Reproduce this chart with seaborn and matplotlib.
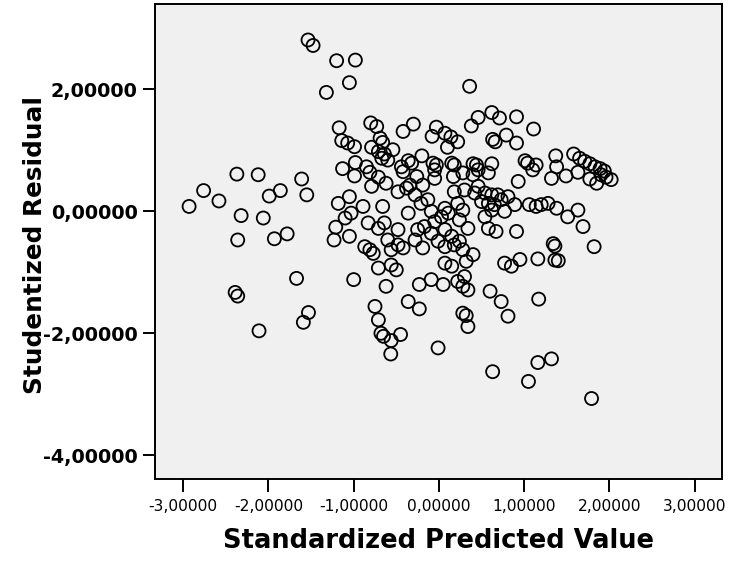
import matplotlib
matplotlib.use("Agg")
import matplotlib.pyplot as plt
import seaborn as sns
import pandas as pd

# ---- data ----
predicted = [
    -1.535, -1.476, -1.20, -1.05, -1.32, -1.17, -1.14, -1.13, -2.37, -2.12,
    -0.98, 0.36, -0.80, -0.73, -0.42, -0.30, -0.03, -0.08, 0.07, 0.14,
    0.22, 0.10, 0.38, 0.46, 0.62, 0.71, 0.91, 1.11, 0.63, 0.66,
    0.79, 0.91, 1.01, 1.04, -1.07, -0.99, -0.69, -0.66, -0.79, -0.71,
    -0.64, -0.54, -0.67, -0.60, -0.98, -0.85, -0.36, -0.32, -0.20, -0.07,
    -0.03, 0.15, 0.18, 0.40, 0.44, 0.62, -0.44,
    1.37, 1.58, 1.65, 1.71, 1.77, 1.83, 1.89, 1.94, 1.14, 1.38,
    1.32, 1.49, 1.63, 1.77, 1.85, 1.90, 1.96, 2.02, 1.20, 1.28,
    1.38, 1.51, 1.63, 1.69, 1.14, 1.34, 1.36, 1.82, 1.16, 1.36,
    1.40, 1.17,
    -1.61, -1.55, -1.86, -1.99, -2.76, -2.58, -2.93, -2.32, -2.06, -2.36,
    -1.93, -1.78, -1.18, -1.21, -1.23, -1.67, -2.39, -2.36, -1.53, -1.59,
    -2.11,
    -0.99, -0.81, -0.71, -0.62, -0.79, -0.42, -0.26, -0.34, -0.48, -0.38,
    -0.19, -0.05, -0.05, 0.17, 0.28, 0.40, 0.46, 0.58, 0.93, 1.10,
    0.18, 0.30, 0.46, 0.42, 0.54, 0.62, 0.69, 0.73, 0.81, 0.89,
    0.50, 0.58, 0.65, -1.05, -1.03, -0.89, -0.66, -0.28, -0.36, -0.21,
    -0.13, -0.09, 0.07, 0.11, 0.03, 0.22, 0.28, 0.62, 0.77, 0.54,
    1.06, -1.10, -0.83, -0.71, -0.64, -0.48, -0.60, -0.25, -0.17, -0.05,
    -0.09, 0.07, 0.15, 0.24, 0.34, 0.24, 0.58, 0.67, 0.91, -1.05,
    -0.28, -0.87, -0.81, -0.77, -0.56, -0.48, -0.42, -0.19, -0.01, 0.07,
    0.18, 0.28, 0.40, 0.07, 0.15, 0.32, 0.77, 0.85, 0.95, -0.56,
    -0.50, -0.71, -1.00, -0.62, -0.23, -0.09, 0.05, 0.22, 0.30, 0.28,
    0.34, 0.60, -0.75, -0.71, -0.36, -0.23, 0.28, 0.32, 0.34, 0.73,
    0.81,
    -0.68, -0.65, -0.56, -0.45, -0.565, -0.01, 0.63, 1.16, 1.32, 1.05,
    1.79,
]

residual = [
    2.81, 2.72, 2.47, 2.11, 1.95, 1.37, 1.16, 0.70, 0.61, 0.60,
    2.48, 2.05, 1.45, 1.39, 1.31, 1.43, 1.38, 1.23, 1.28, 1.22,
    1.14, 1.05, 1.40, 1.54, 1.62, 1.53, 1.55, 1.35, 1.18, 1.14,
    1.25, 1.12, 0.83, 0.79, 1.12, 1.06, 1.20, 1.13, 1.05, 0.98,
    0.94, 1.01, 0.87, 0.84, 0.80, 0.73, 0.83, 0.79, 0.91, 0.79,
    0.76, 0.79, 0.76, 0.78, 0.76, 0.78, 0.73,
    0.91, 0.94, 0.87, 0.82, 0.78, 0.73, 0.70, 0.66, 0.76, 0.73,
    0.54, 0.58, 0.64, 0.53, 0.46, 0.60, 0.56, 0.52, 0.11, 0.13,
    0.05, -0.09, 0.02, -0.25, 0.08, -0.53, -0.57, -0.58, -0.78, -0.80,
    -0.81, -1.44,
    0.53, 0.27, 0.34, 0.25, 0.34, 0.17, 0.08, -0.07, -0.11, -0.47,
    -0.45, -0.37, 0.13, -0.26, -0.47, -1.10, -1.33, -1.39, -1.66, -1.82,
    -1.96,
    0.58, 0.64, 0.56, 0.46, 0.41, 0.65, 0.57, 0.43, 0.32, 0.38,
    0.43, 0.54, 0.68, 0.57, 0.63, 0.60, 0.68, 0.63, 0.49, 0.68,
    0.32, 0.35, 0.41, 0.30, 0.30, 0.27, 0.27, 0.19, 0.24, 0.11,
    0.16, 0.13, 0.11, 0.24, -0.03, 0.08, 0.08, 0.27, -0.03, 0.13,
    0.19, 0.00, 0.05, -0.03, -0.09, 0.13, 0.02, 0.02, 0.00, -0.09,
    0.11, -0.11, -0.19, -0.28, -0.19, -0.30, -0.47, -0.30, -0.25, -0.17,
    -0.36, -0.30, -0.41, -0.14, -0.28, -0.49, -0.28, -0.33, -0.33, -0.41,
    -0.47, -0.58, -0.63, -0.69, -0.63, -0.55, -0.60, -0.60, -0.49, -0.58,
    -0.55, -0.63, -0.71, -0.85, -0.90, -0.82, -0.85, -0.90, -0.79, -0.88,
    -0.96, -0.93, -1.12, -1.23, -1.20, -1.12, -1.20, -1.15, -1.07, -1.23,
    -1.29, -1.31, -1.56, -1.78, -1.48, -1.60, -1.67, -1.71, -1.89, -1.48,
    -1.72,
    -2.00, -2.05, -2.12, -2.02, -2.34, -2.24, -2.63, -2.48, -2.42, -2.79,
    -3.07,
]

x_ticks = [-3, -2, -1, 0, 1, 2, 3]
x_tick_labels = ["-3,00000", "-2,00000", "-1,00000", "0,00000",
                 "1,00000", "2,00000", "3,00000"]
y_ticks = [-4, -2, 0, 2]
y_tick_labels = ["-4,00000", "-2,00000", "0,00000", "2,00000"]
x_title = "Standardized Predicted Value"
y_title = "Studentized Residual"

df = pd.DataFrame({"pred": predicted, "resid": residual})

sns.set_style("white")
plt.rcParams["font.family"] = ["DejaVu Sans"]

fig = plt.figure(figsize=(7.30, 5.61), dpi=100)
ax = fig.add_axes([155 / 730, 1 - 479 / 561, (722 - 155) / 730, (479 - 4) / 561])
ax.set_facecolor("#F0F0F0")

sns.scatterplot(data=df, x="pred", y="resid", ax=ax, marker="o",
                s=88, facecolor="none", edgecolor="black", linewidth=1.3,
                legend=False, zorder=3)

ax.set_xlim(-3.33, 3.32)
ax.set_ylim(-4.39, 3.40)

ax.set_xticks(x_ticks, labels=x_tick_labels)
ax.set_yticks(y_ticks, labels=y_tick_labels)

ax.tick_params(axis="x", direction="out", length=9.4, width=1.4,
               labelsize=11.2, pad=5.0, color="black", labelcolor="black",
               bottom=True)
ax.tick_params(axis="y", direction="out", length=9.0, width=1.4,
               labelsize=13.8, pad=3.4, color="black", labelcolor="black",
               left=True)
for lab in ax.get_yticklabels():
    lab.set_fontweight("bold")

for sp in ax.spines.values():
    sp.set_visible(True)
    sp.set_color("black")
    sp.set_linewidth(1.4)

ax.set_xlabel(x_title, fontsize=18.5, fontweight="bold", color="black")
ax.set_ylabel(y_title, fontsize=17.8, fontweight="bold", color="black")
ax.xaxis.set_label_coords(0.5, -0.103)
ax.yaxis.set_label_coords(-0.19, 0.493)

fig.savefig("out.png", dpi=100, facecolor="white")
